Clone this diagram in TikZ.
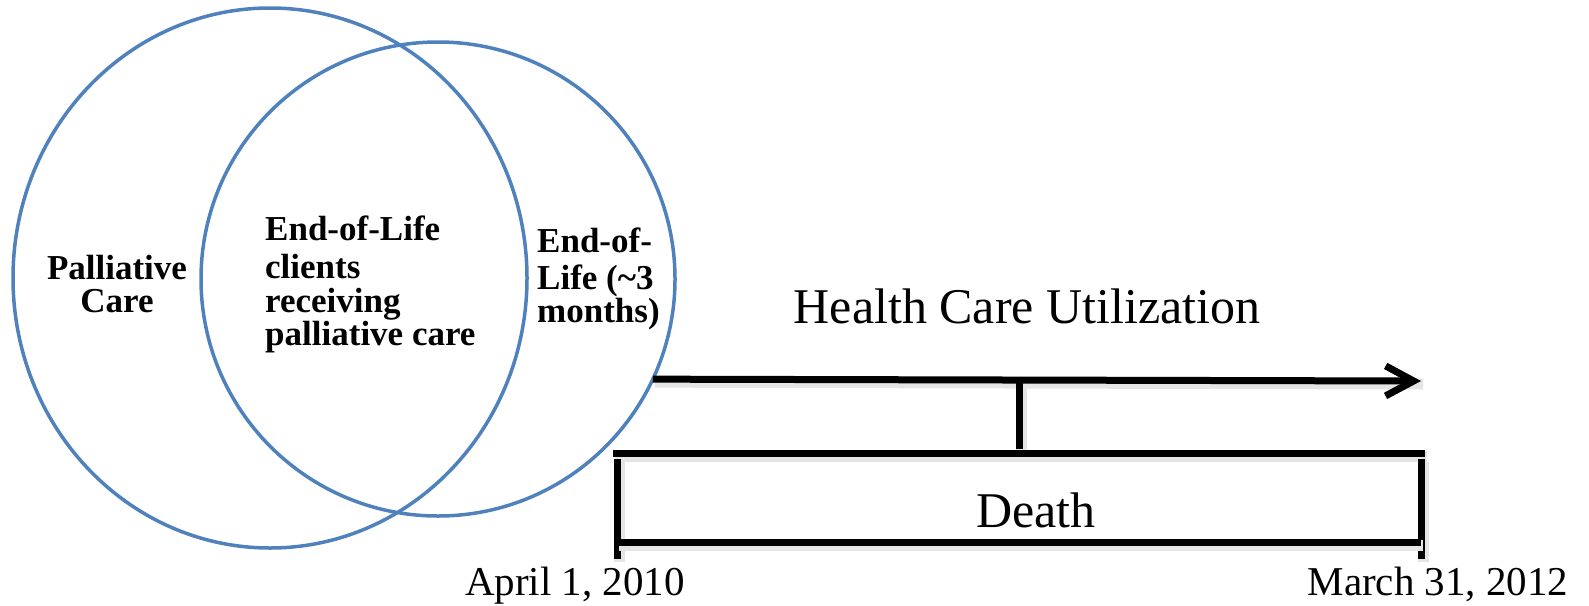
\documentclass[tikz,border=0pt]{standalone}
\usepackage{fontspec}
\setmainfont{Liberation Serif}
\usetikzlibrary{arrows.meta,shapes.geometric}
\definecolor{vennblue}{RGB}{79,129,189}
\begin{document}
\begin{tikzpicture}[x=1pt,y=-1pt,
  venn/.style={draw=vennblue, line width=3.5pt, inner sep=0pt, outer sep=0pt},
  shadowed/.style={preaction={draw=black!10, line width=11pt, transform canvas={shift={(2pt,-3pt)}}}},
  bar/.style={draw=black, line width=7pt, shadowed},
  lbl/.style={font=\fontsize{35}{35}\selectfont\bfseries, inner sep=0pt},
  lbll/.style={lbl, anchor=base west},
  bigtxt/.style={font=\fontsize{50}{50}\selectfont, inner sep=0pt, anchor=base},
  datetxt/.style={font=\fontsize{41}{41}\selectfont, inner sep=0pt, anchor=base}]
\useasboundingbox (0,0) rectangle (1589,605);
% Venn shapes
\node[venn, ellipse, minimum width=514pt, minimum height=540pt] (pc) at (270,278) {};
\node[venn, circle, minimum size=474pt] (eol) at (438,279) {};
% circle labels
\node[lbl, anchor=base] (pc1) at (117,279) {Palliative};
\node[lbl, anchor=base] (pc2) at (117,312) {Care};
\node[lbll] (m1) at (265,240) {End-of-Life};
\node[lbll] (m2) at (265,278) {clients};
\node[lbll] (m3) at (265,312) {receiving};
\node[lbll] (m4) at (265,345) {palliative care};
\node[lbll] (e1) at (537,252) {End-of-};
\node[lbll] (e2) at (537,289) {Life (\textasciitilde3};
\node[lbll] (e3) at (537,322) {months)};
% timeline
\coordinate (astart) at (eol.-25.5);
\coordinate (aend) at (1421,381);
\coordinate (ttop) at (1019,381);
\coordinate (tbot) at (1019,449);
\coordinate (bl) at (613,453);
\coordinate (br) at (1425,453);
\coordinate (vlt) at (617,459);
\coordinate (vlb) at (617,559);
\coordinate (vrt) at (1421,459);
\coordinate (vrb) at (1421,559);
\coordinate (bbl) at (617,542);
\coordinate (bbr) at (1421,542);
\draw[draw=black!10, line width=11pt, transform canvas={shift={(2pt,-3pt)}}] (astart) -- (aend);
\draw[draw=black, line width=7pt, -{Straight Barb[length=28pt,width=30pt]}] (astart) -- (aend);
\draw[bar] (ttop) -- (tbot);
\draw[bar] (bl) -- (br);
\draw[bar] (vlt) -- (vlb);
\draw[bar] (vrt) -- (vrb);
\draw[bar] (bbl) -- (bbr);
% texts
\node[bigtxt] (hcu) at (1027,323) {Health Care Utilization};
\node[bigtxt] (death) at (1036,527) {Death};
\node[datetxt] (start) at (575,595) {April 1, 2010};
\node[datetxt] (stop) at (1438,595) {March 31, 2012};
\end{tikzpicture}
\end{document}
